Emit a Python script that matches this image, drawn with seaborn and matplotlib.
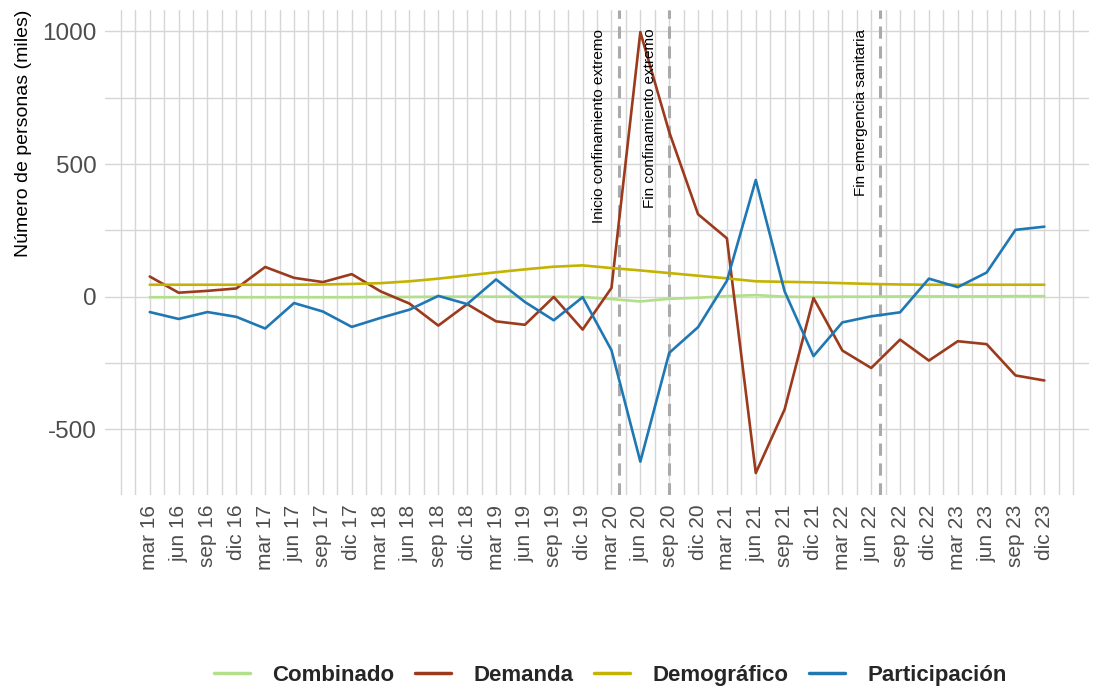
import numpy as np
import pandas as pd
import matplotlib
matplotlib.use("Agg")
import matplotlib.pyplot as plt
import seaborn as sns

################################ datos ########################################
trimestres = ['mar 16', 'jun 16', 'sep 16', 'dic 16', 'mar 17', 'jun 17', 'sep 17', 'dic 17',
              'mar 18', 'jun 18', 'sep 18', 'dic 18', 'mar 19', 'jun 19', 'sep 19', 'dic 19',
              'mar 20', 'jun 20', 'sep 20', 'dic 20', 'mar 21', 'jun 21', 'sep 21', 'dic 21',
              'mar 22', 'jun 22', 'sep 22', 'dic 22', 'mar 23', 'jun 23', 'sep 23', 'dic 23']

combinado = [-2, -2, -2, -2, -2, -2, -2, -2, -1, -1, 0, 0, 0, 0, 0, -1,
             -9, -18, -8, -4, 2, 6, 0, -1, 0, 0, 1, 1, 1, 1, 2, 2]
demanda = [76, 15, 22, 31, 112, 71, 55, 85, 20, -26, -109, -28, -93, -106, -1, -124,
           33, 998, 621, 311, 220, -665, -425, -5, -203, -269, -162, -241, -168, -179, -297, -316]
demografico = [45, 45, 45, 45, 45, 45, 46, 48, 51, 58, 68, 80, 92, 103, 113, 118,
               108, 99, 89, 79, 69, 58, 56, 54, 51, 48, 46, 45, 45, 45, 45, 45]
participacion = [-58, -84, -58, -76, -120, -24, -56, -114, -80, -49, 3, -28, 65, -20, -89, -2,
                 -202, -622, -212, -115, 60, 440, 20, -224, -97, -74, -59, 68, 36, 91, 252, 264]

series = {'Combinado': combinado, 'Demanda': demanda,
          'Demográfico': demografico, 'Participación': participacion}
colores = {'Combinado': '#b2df8a', 'Demanda': '#9b3a1c',
           'Demográfico': '#c4b300', 'Participación': '#1f78b4'}

# eventos (fecha -> posicion en trimestres desde mar 16)
eventos = ['Inicio confinamiento extremo', 'Fin confinamiento extremo', 'Fin emergencia sanitaria']
eventos_fecha = ['2020-03-25', '2020-09-01', '2022-06-30']
###############################################################################

def fecha_a_pos(f):
    f = pd.Timestamp(f)
    meses = (f.year - 2016) * 12 + (f.month - 3) + (f.day - 1) / f.days_in_month
    return meses / 3

df = pd.DataFrame(series)
df['t'] = np.arange(len(trimestres))
df = df.melt(id_vars='t', var_name='serie', value_name='valor')

sns.set_theme(style='whitegrid')
plt.rcParams['font.family'] = ['Liberation Sans', 'DejaVu Sans']

fig, ax = plt.subplots(figsize=(10.94, 6.91), dpi=100)
fig.subplots_adjust(left=0.096, right=0.9955, top=0.9855, bottom=0.2836)

sns.lineplot(data=df, x='t', y='valor', hue='serie', palette=colores,
             linewidth=1.9, ax=ax, legend=True)

ax.set_xlim(-1.55, 32.55)
ax.set_ylim(-748, 1081)

ax.set_xticks(np.arange(len(trimestres)))
ax.set_xticklabels(trimestres, rotation=90, fontsize=15, color='#4d4d4d')
ax.set_xticks(np.arange(-1, 32.01, 0.5), minor=True)
ax.set_yticks([-500, 0, 500, 1000])
ax.set_yticklabels(['-500', '0', '500', '1000'], fontsize=17.5, color='#4d4d4d')
ax.set_yticks([-250, 250, 750], minor=True)
ax.tick_params(axis='both', which='both', length=0)
ax.tick_params(axis='x', pad=7)
ax.tick_params(axis='y', pad=6)

ax.grid(True, which='both', color='#d6d6d6', linewidth=1.0)
ax.set_axisbelow(True)
for s in ax.spines.values():
    s.set_visible(False)

ax.set_xlabel('')
ax.set_ylabel('Número de personas (miles)', fontsize=14, color='black', loc='top')
ax.yaxis.set_label_coords(-0.074, 1.0)

for nombre, fecha in zip(eventos, eventos_fecha):
    pos = fecha_a_pos(fecha)
    ax.axvline(pos, color='#aaaaaa', linestyle=(0, (4, 2.5)), linewidth=2.2, zorder=1.5)
    ax.text(pos - 0.68, 1010, nombre, rotation=90, ha='center', va='top',
            fontsize=11, color='black')

handles, labels = ax.get_legend_handles_labels()
ax.get_legend().remove()
for h in handles:
    h.set_linewidth(2.5)
fig.legend(handles, labels, loc='center', bbox_to_anchor=(0.558, 0.023), ncol=4,
           frameon=False, handlelength=1.6, handletextpad=1.0, columnspacing=0.95,
           prop={'weight': 'bold', 'size': 16})

plt.savefig('out.png', dpi=100)
